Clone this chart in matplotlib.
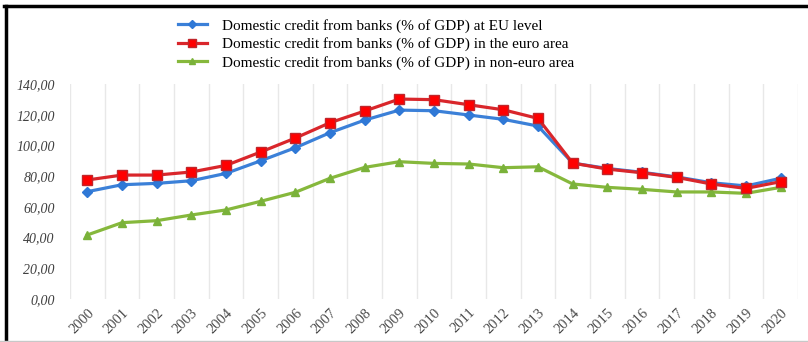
import numpy as np
import matplotlib
matplotlib.use('Agg')
import matplotlib.pyplot as plt
from matplotlib.lines import Line2D

years = [str(y) for y in range(2000, 2021)]

eu_level = [69.9, 74.4, 75.3, 77.0, 81.8, 90.0, 98.5, 108.3, 116.5, 123.0, 122.6,
            119.8, 117.0, 112.6, 88.5, 85.0, 82.5, 79.5, 75.7, 73.6, 78.6]
euro_area = [77.5, 80.7, 80.7, 82.7, 87.0, 95.7, 104.8, 114.8, 122.4, 130.2, 129.8,
             126.5, 123.2, 117.6, 88.5, 84.6, 82.2, 79.2, 74.9, 72.0, 76.4]
non_euro = [41.7, 49.7, 51.0, 54.7, 58.0, 63.6, 69.5, 78.6, 85.7, 89.4, 88.3,
            87.9, 85.5, 86.1, 74.9, 72.7, 71.4, 69.7, 69.7, 68.8, 72.7]

labels = ['Domestic credit from banks (% of GDP) at EU level',
          'Domestic credit from banks (% of GDP) in the euro area',
          'Domestic credit from banks (% of GDP) in non-euro area']

plt.rcParams['font.family'] = ['Liberation Serif', 'DejaVu Serif']

fig = plt.figure(figsize=(8.08, 3.42), dpi=100)
ax = fig.add_axes([70/808, 1 - 299/342, (798 - 70)/808, (299 - 84)/342])

x = np.arange(len(years))
blue, red, green = '#3B80D8', '#D9262B', '#86B83C'
ax.plot(x, eu_level, color=blue, lw=2.3, marker='D', ms=5,
        mfc='#2F78D6', mec='#2F78D6', zorder=3)
ax.plot(x, euro_area, color=red, lw=2.3, marker='s', ms=7,
        mfc='#FF0000', mec='#C0262B', zorder=4)
ax.plot(x, non_euro, color=green, lw=2.3, marker='^', ms=6,
        mfc='#7AB23A', mec='#7AB23A', zorder=2)

ax.set_xlim(-0.5, len(years) - 0.5)
ax.set_ylim(0, 140)
ax.set_yticks(np.arange(0, 141, 20))
ax.set_yticklabels(['%d,00' % v for v in range(0, 141, 20)],
                   fontsize=10, style='italic', color='#404040')
ax.set_xticks(x)
ax.set_xticklabels(years, rotation=45, ha='right', rotation_mode='anchor',
                   fontsize=10.5, color='#4A4A4A')
ax.set_xticks(np.arange(-0.5, len(years), 1), minor=True)
ax.grid(which='minor', axis='x', color='#E8E8E8', lw=1)
ax.tick_params(which='both', length=0)
ax.tick_params(axis='y', pad=11)
ax.tick_params(axis='x', pad=5)
for s in ax.spines.values():
    s.set_visible(False)

handles = [Line2D([], [], color=blue, lw=2.3, marker='D', ms=4, mfc='#2F78D6', mec='#2F78D6'),
           Line2D([], [], color=red, lw=2.3, marker='s', ms=6, mfc='#FF0000', mec='#C0262B'),
           Line2D([], [], color=green, lw=2.3, marker='^', ms=5, mfc='#7AB23A', mec='#7AB23A')]
fig.legend(handles, labels, loc='upper left', bbox_to_anchor=(164/808, 1 - 5/342),
           frameon=False, fontsize=11, handlelength=1.9, labelspacing=0.3,
           handletextpad=1.0)

# frame of the pasted image
fig.add_artist(Line2D([0.005, 1.0], [1 - 6/342, 1 - 6/342], color='black', lw=2.5))
fig.add_artist(Line2D([6/808, 6/808], [0, 1 - 6/342], color='black', lw=2.5))
fig.add_artist(Line2D([0, 1], [1/342, 1/342], color='#C8C8C8', lw=1))

fig.savefig('out.png', dpi=100)
